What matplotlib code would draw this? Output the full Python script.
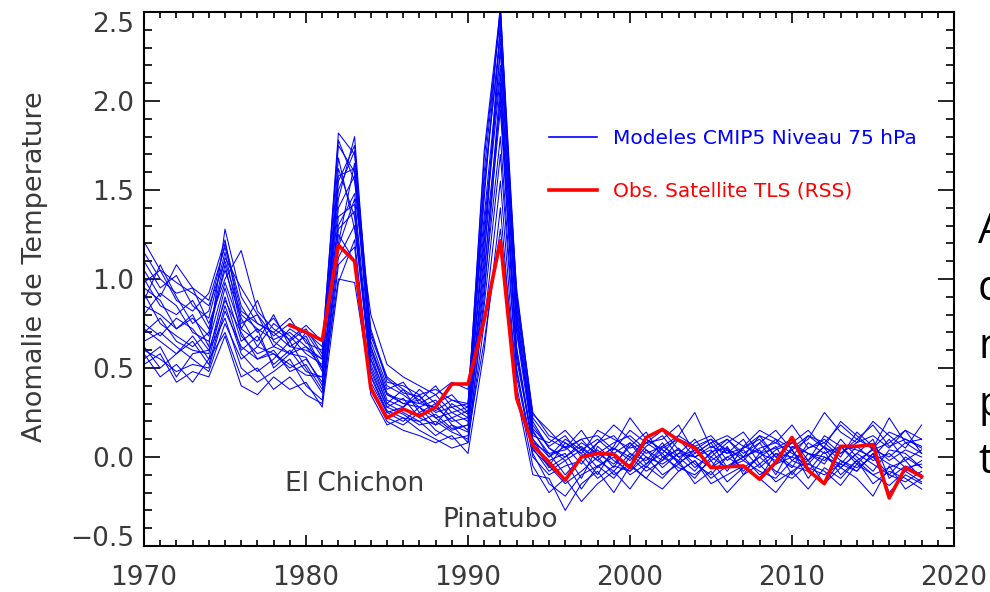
import numpy as np
import matplotlib
matplotlib.use("Agg")
import matplotlib.pyplot as plt
from matplotlib.ticker import MultipleLocator

# years of the model runs and of the satellite record
years = list(range(1970, 2019))
obs_years = list(range(1979, 2019))

# satellite TLS (RSS) anomaly
obs = [0.74, 0.70, 0.655, 1.19, 1.10, 0.385, 0.22, 0.27, 0.23, 0.28,
       0.41, 0.41, 0.77, 1.215, 0.33, 0.066, -0.03, -0.13, 0.00, 0.02,
       0.015, -0.06, 0.11, 0.155, 0.094, 0.05, -0.06, -0.055, -0.05, -0.125,
       -0.03, 0.11, -0.075, -0.15, 0.06, 0.06, 0.07, -0.23, -0.06, -0.11]

# CMIP5 runs at 75 hPa (1970 .. 2018), one list per model
m01 = [1.21, 1.05, 0.98, 0.92, 0.85, 1.10, 0.80, 0.72, 0.66, 0.70, 0.62, 0.55,
       1.45, 1.80, 0.62, 0.35, 0.30, 0.28, 0.22, 0.25, 0.20, 1.10, 2.45, 0.85, 0.18,
       0.05, -0.02, 0.04, 0.10, 0.02, -0.05, 0.06, 0.12, 0.00, -0.08, 0.03, 0.05,
       -0.02, 0.08, -0.04, 0.00, 0.12, 0.05, -0.06, 0.02, 0.10, -0.12, -0.05, -0.10]
m02 = [0.95, 0.88, 0.72, 0.80, 0.62, 1.28, 0.90, 0.75, 0.70, 0.62, 0.68, 0.50,
       1.62, 1.35, 0.50, 0.28, 0.33, 0.22, 0.18, 0.30, 0.24, 1.45, 2.55, 0.70, 0.10,
       -0.05, 0.08, 0.02, -0.10, 0.05, 0.00, 0.10, 0.04, -0.03, 0.02, 0.08, -0.06,
       0.00, 0.04, -0.10, 0.06, 0.02, -0.04, 0.10, 0.00, -0.08, 0.04, 0.02, -0.06]
m03 = [0.60, 0.55, 0.48, 0.52, 0.50, 0.82, 0.62, 0.55, 0.60, 0.48, 0.52, 0.38,
       1.00, 0.98, 0.40, 0.22, 0.18, 0.25, 0.15, 0.10, 0.12, 0.65, 1.28, 0.45, 0.02,
       -0.15, -0.22, -0.10, -0.05, -0.12, 0.00, -0.08, -0.02, 0.05, -0.04, -0.10, 0.00,
       -0.06, -0.12, 0.02, -0.05, -0.08, 0.03, -0.10, -0.02, -0.15, -0.08, -0.12, -0.18]
m04 = [1.10, 0.95, 1.02, 0.85, 0.78, 1.15, 0.72, 0.88, 0.65, 0.58, 0.70, 0.62,
       1.78, 1.55, 0.70, 0.45, 0.38, 0.32, 0.40, 0.28, 0.30, 1.20, 2.30, 0.95, 0.22,
       0.10, 0.05, 0.15, 0.02, 0.08, 0.12, 0.04, -0.02, 0.10, 0.06, 0.00, 0.08,
       0.14, 0.02, 0.05, 0.10, -0.02, 0.06, 0.20, 0.12, 0.04, 0.08, 0.15, 0.02]
m05 = [0.55, 0.62, 0.45, 0.58, 0.60, 0.78, 0.50, 0.42, 0.48, 0.55, 0.40, 0.32,
       1.20, 1.65, 0.55, 0.30, 0.25, 0.20, 0.12, 0.18, 0.08, 0.90, 2.05, 0.60, 0.05,
       -0.08, -0.02, -0.18, -0.05, 0.00, -0.10, -0.04, 0.02, -0.08, -0.02, -0.12, -0.05,
       0.00, -0.10, -0.04, 0.04, -0.08, -0.15, -0.02, -0.06, 0.00, -0.10, -0.14, -0.08]
m06 = [0.88, 1.08, 0.90, 0.75, 0.82, 1.20, 0.85, 0.70, 0.78, 0.65, 0.72, 0.58,
       1.50, 1.72, 0.62, 0.38, 0.42, 0.30, 0.35, 0.25, 0.28, 1.60, 2.50, 0.80, 0.15,
       0.00, 0.06, -0.04, 0.08, 0.12, 0.02, -0.06, 0.05, 0.10, 0.00, 0.04, -0.08,
       0.06, 0.02, 0.10, -0.02, 0.05, 0.08, 0.00, 0.14, 0.06, -0.02, 0.04, 0.00]
m07 = [0.72, 0.65, 0.58, 0.68, 0.55, 0.90, 0.60, 0.68, 0.52, 0.60, 0.48, 0.45,
       1.35, 1.42, 0.45, 0.25, 0.28, 0.35, 0.22, 0.15, 0.18, 1.05, 1.95, 0.55, 0.08,
       0.02, -0.10, 0.00, 0.04, -0.06, 0.08, 0.00, -0.04, 0.02, 0.10, -0.02, 0.04,
       -0.08, 0.00, 0.06, -0.10, 0.02, 0.00, -0.04, 0.06, -0.02, 0.02, -0.06, -0.04]
m08 = [1.00, 0.85, 0.80, 0.88, 0.72, 1.05, 0.78, 0.62, 0.75, 0.68, 0.58, 0.52,
       1.68, 1.28, 0.58, 0.32, 0.28, 0.38, 0.30, 0.35, 0.25, 1.30, 2.20, 0.75, 0.12,
       0.08, 0.15, 0.05, -0.02, 0.06, 0.22, 0.10, 0.04, -0.02, 0.08, 0.12, 0.02,
       0.05, 0.10, 0.00, 0.08, 0.15, 0.05, 0.02, 0.10, 0.18, 0.06, 0.10, 0.05]
m09 = [0.58, 0.45, 0.52, 0.42, 0.55, 0.70, 0.45, 0.50, 0.38, 0.45, 0.35, 0.30,
       1.08, 1.18, 0.35, 0.18, 0.22, 0.15, 0.10, 0.05, 0.08, 0.75, 1.55, 0.40, -0.05,
       -0.20, -0.12, -0.25, -0.15, -0.08, -0.18, -0.05, -0.12, -0.02, -0.15, -0.08, -0.20,
       -0.10, -0.04, -0.14, -0.08, -0.18, -0.06, -0.12, -0.02, -0.10, -0.16, -0.08, -0.14]
m10 = [0.92, 0.75, 0.68, 0.62, 0.70, 1.12, 0.95, 0.80, 0.62, 0.72, 0.66, 0.48,
       1.58, 1.62, 0.65, 0.40, 0.35, 0.28, 0.32, 0.22, 0.26, 1.50, 2.40, 0.88, 0.20,
       0.05, 0.00, 0.08, 0.02, -0.04, 0.06, 0.14, 0.00, 0.04, -0.06, 0.02, 0.10,
       0.00, 0.05, 0.08, 0.02, -0.02, 0.12, 0.06, -0.04, 0.05, 0.22, 0.08, 0.10]
m11 = [0.65, 0.70, 0.62, 0.55, 0.48, 0.75, 0.55, 0.62, 0.58, 0.50, 0.55, 0.42,
       1.25, 1.10, 0.42, 0.25, 0.20, 0.28, 0.18, 0.22, 0.15, 0.95, 1.80, 0.50, 0.00,
       -0.10, -0.05, -0.02, -0.12, -0.05, -0.08, 0.00, -0.10, -0.04, -0.12, 0.00, -0.06,
       -0.02, -0.08, -0.12, -0.02, -0.06, -0.10, -0.04, -0.08, 0.02, -0.20, -0.10, -0.15]
m12 = [1.15, 1.00, 0.92, 0.95, 0.88, 1.18, 0.82, 0.75, 0.70, 0.78, 0.64, 0.60,
       1.82, 1.70, 0.72, 0.42, 0.40, 0.35, 0.38, 0.32, 0.28, 1.72, 2.52, 0.92, 0.25,
       0.12, 0.08, 0.02, 0.15, 0.10, 0.05, 0.08, 0.02, 0.12, 0.06, 0.10, 0.04,
       0.00, 0.12, 0.08, 0.18, 0.05, 0.10, 0.02, 0.08, 0.12, 0.05, 0.15, 0.10]
m13 = [0.52, 0.58, 0.42, 0.48, 0.45, 0.68, 0.40, 0.35, 0.45, 0.38, 0.42, 0.28,
       0.98, 1.22, 0.38, 0.20, 0.15, 0.12, 0.08, 0.12, 0.02, 0.60, 1.40, 0.35, -0.10,
       -0.12, -0.30, -0.15, -0.08, -0.20, -0.05, -0.12, -0.18, -0.08, -0.02, -0.15, -0.10,
       -0.05, -0.12, -0.20, -0.08, -0.02, -0.15, -0.06, -0.12, -0.22, -0.05, -0.18, -0.12]
m14 = [0.80, 0.92, 0.85, 0.70, 0.65, 0.98, 0.72, 0.65, 0.80, 0.62, 0.60, 0.55,
       1.40, 1.58, 0.55, 0.35, 0.32, 0.30, 0.28, 0.20, 0.22, 1.25, 2.15, 0.72, 0.14,
       0.02, 0.04, 0.10, 0.00, 0.05, -0.02, 0.08, 0.15, 0.04, 0.00, 0.06, 0.02,
       0.10, -0.04, 0.04, 0.08, 0.02, -0.02, 0.06, 0.04, 0.00, 0.10, -0.02, 0.04]
m15 = [1.05, 0.90, 1.08, 0.95, 0.75, 1.00, 1.16, 0.82, 0.72, 0.66, 0.74, 0.65,
       1.30, 1.48, 0.80, 0.52, 0.45, 0.40, 0.35, 0.42, 0.38, 1.35, 2.28, 0.78, 0.16,
       0.06, 0.12, 0.00, 0.08, 0.18, 0.10, 0.02, 0.06, 0.12, 0.25, 0.05, 0.10,
       0.02, 0.08, 0.15, 0.04, 0.10, 0.25, 0.14, 0.08, 0.20, 0.12, 0.05, 0.18]
m16 = [0.62, 0.50, 0.58, 0.65, 0.52, 0.85, 0.58, 0.48, 0.55, 0.65, 0.50, 0.36,
       1.12, 1.30, 0.48, 0.28, 0.24, 0.18, 0.20, 0.14, 0.10, 0.85, 1.70, 0.48, 0.04,
       -0.05, -0.15, -0.08, 0.00, -0.10, -0.04, -0.12, 0.00, -0.06, -0.10, -0.02, -0.14,
       -0.06, 0.00, -0.08, -0.12, -0.04, -0.08, -0.16, -0.04, -0.10, -0.06, -0.02, -0.12]
m17 = [0.85, 0.80, 0.72, 0.78, 0.68, 1.08, 0.68, 0.58, 0.62, 0.58, 0.62, 0.50,
       1.55, 1.75, 0.60, 0.36, 0.30, 0.32, 0.25, 0.28, 0.22, 1.55, 2.35, 0.82, 0.10,
       0.00, 0.10, 0.04, -0.06, 0.02, 0.08, -0.04, 0.06, 0.00, 0.04, 0.10, -0.02,
       0.05, 0.12, 0.00, -0.06, 0.08, 0.02, 0.06, -0.02, 0.04, 0.00, 0.08, 0.02]
m18 = [0.70, 0.78, 0.65, 0.60, 0.58, 0.95, 0.65, 0.72, 0.50, 0.58, 0.56, 0.40,
       1.18, 1.45, 0.52, 0.30, 0.38, 0.25, 0.30, 0.18, 0.14, 1.00, 2.10, 0.62, 0.06,
       -0.02, 0.02, -0.12, 0.06, -0.02, -0.08, 0.04, -0.06, 0.02, 0.00, -0.06, 0.06,
       -0.10, 0.02, -0.02, 0.04, -0.12, 0.00, -0.06, 0.02, -0.04, -0.10, 0.00, -0.06]
m19 = [0.98, 1.05, 0.88, 0.82, 0.92, 1.22, 0.75, 0.80, 0.68, 0.75, 0.70, 0.56,
       1.75, 1.60, 0.68, 0.44, 0.36, 0.34, 0.26, 0.32, 0.30, 1.68, 2.48, 0.90, 0.24,
       0.15, 0.05, 0.10, 0.12, 0.04, 0.15, 0.08, 0.10, 0.18, 0.02, 0.08, 0.12,
       0.06, 0.15, 0.10, 0.05, 0.12, 0.08, 0.18, 0.10, 0.05, 0.14, 0.10, 0.06]
m20 = [0.75, 0.68, 0.78, 0.72, 0.60, 0.88, 0.70, 0.55, 0.58, 0.52, 0.46, 0.45,
       1.28, 1.38, 0.46, 0.26, 0.22, 0.20, 0.24, 0.16, 0.18, 1.15, 2.00, 0.58, 0.08,
       -0.06, 0.00, 0.06, -0.02, -0.08, 0.02, -0.02, 0.08, -0.04, 0.04, -0.06, 0.00,
       0.04, -0.06, 0.02, 0.00, -0.04, 0.06, -0.02, -0.08, 0.02, -0.04, -0.08, -0.02]

models = [m01, m02, m03, m04, m05, m06, m07, m08, m09, m10,
          m11, m12, m13, m14, m15, m16, m17, m18, m19, m20]

yticks = [-0.5, 0.0, 0.5, 1.0, 1.5, 2.0, 2.5]

txt = "#3a3a3a"

fig = plt.figure(figsize=(9.9, 5.92), dpi=100)
ax = fig.add_axes([144 / 990, 46 / 592, 810 / 990, 534 / 592])

for i, m in enumerate(models):
    ax.plot(years, m, color="#0000ff", lw=0.75,
            label="Modeles CMIP5 Niveau 75 hPa" if i == 0 else None)
ax.plot(obs_years, obs, color="#ff0000", lw=2.6, label="Obs. Satellite TLS (RSS)")

ax.set_xlim(1970, 2020)
ax.xaxis.set_major_locator(MultipleLocator(10))
ax.xaxis.set_minor_locator(MultipleLocator(1))
ax.set_yticks(yticks)
ax.set_yticklabels([f"{v:.1f}".replace("-", "\u2212") for v in yticks])
ax.yaxis.set_minor_locator(MultipleLocator(0.1))
ax.set_ylim(-0.5, 2.5)
ax.tick_params(which="both", direction="in", top=True, right=True,
               width=1.2, colors="black", labelcolor=txt, labelsize=19)
ax.tick_params(axis="x", which="major", length=8, pad=14)
ax.tick_params(axis="x", which="minor", length=4)
ax.tick_params(axis="y", which="major", length=11.5, pad=7)
ax.tick_params(axis="y", which="minor", length=5.8)
for s in ax.spines.values():
    s.set_linewidth(1.5)

# first and last y labels pulled inside the frame
yt = ax.yaxis.get_major_ticks()
yt[0].label1.set_verticalalignment("baseline")
yt[-1].label1.set_verticalalignment("top")

fig.text(35 / 990, 1 - 267 / 592, "Anomalie de Temperature", rotation=90,
         ha="center", va="center", fontsize=19.5, color=txt)

ax.text(1983.0, -0.15, "El Chichon", ha="center", va="center", fontsize=19, color=txt)
ax.text(1992.0, -0.355, "Pinatubo", ha="center", va="center", fontsize=19, color=txt)

leg = ax.legend(loc="upper left", bbox_to_anchor=(0.5, 0.78), frameon=False,
                fontsize=14.5, labelcolor="linecolor", handlelength=2.4,
                handletextpad=0.8, labelspacing=1.65, borderpad=0, borderaxespad=0)
leg.get_lines()[0].set_linewidth(1.2)

# slide text on the right, cut off by the image edge
side = ["Anomalies", "des", "niveaux", "pour", "température"]
bases = [243, 300.5, 358, 415.5, 473]
for w, b in zip(side, bases):
    fig.text(978 / 990, 1 - b / 592, w, ha="left", va="baseline",
             fontsize=30, color="black", family="Open Sans")

fig.savefig("out.png", dpi=100)
